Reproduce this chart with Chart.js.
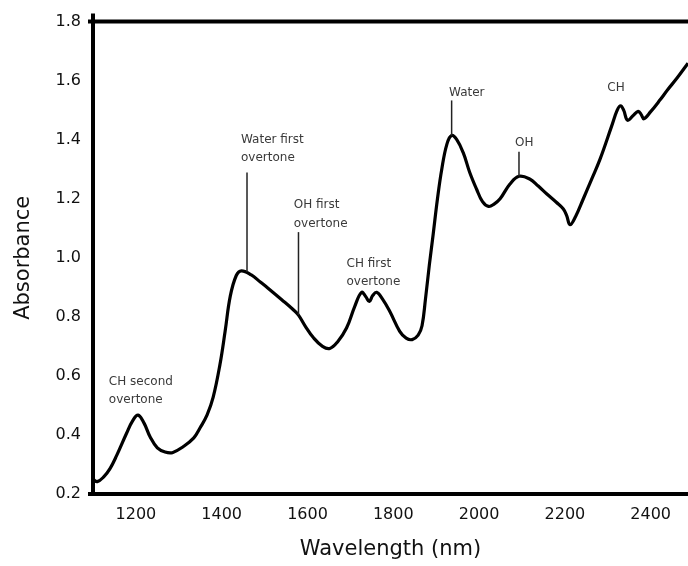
<!DOCTYPE html>
<html lang="en">
<head>
    <meta charset="UTF-8">
    <title>NIR Absorbance Spectrum</title>
    <script src="https://cdn.jsdelivr.net/npm/chart.js"></script>
    <style>
        html, body {
            margin: 0;
            padding: 0;
            background: #fff;
        }
        #chart-container {
            width: 688px;
            height: 566px;
        }
    </style>
</head>
<body>
    <div id="chart-container">
        <canvas id="spectrumChart"></canvas>
    </div>

    <script>
        // Spectrum (wavelength in nm, absorbance)
        const wavelengths = [
            1100, 1110, 1125, 1140, 1155, 1178, 1192, 1205, 1219, 1233, 1250, 1268, 1285,
            1310, 1335, 1350, 1366, 1380, 1396, 1408, 1420, 1434, 1446, 1469, 1490,
            1508, 1540, 1567, 1579, 1595, 1614, 1635, 1652, 1670, 1691, 1710, 1726, 1736,
            1744, 1752, 1761, 1775, 1792, 1815, 1830, 1844, 1858, 1867, 1875, 1884, 1893,
            1903, 1913, 1925, 1936, 1948, 1963, 1978, 1994, 2008, 2022, 2035, 2049, 2072,
            2093, 2118, 2138, 2158, 2180, 2196, 2204, 2212, 2225, 2243, 2262, 2282, 2309,
            2322, 2330, 2337, 2346, 2358, 2371, 2378, 2384, 2400, 2422, 2440, 2461, 2487
        ];
        const absorbance = [
            0.250, 0.242, 0.258, 0.287, 0.330, 0.405, 0.447, 0.467, 0.440, 0.394, 0.356, 0.342, 0.340,
            0.360, 0.390, 0.425, 0.468, 0.527, 0.639, 0.751, 0.870, 0.940, 0.956, 0.942, 0.918,
            0.897, 0.858, 0.824, 0.806, 0.768, 0.729, 0.700, 0.693, 0.715, 0.762, 0.835, 0.883, 0.868,
            0.852, 0.872, 0.883, 0.860, 0.818, 0.751, 0.728, 0.723, 0.738, 0.770, 0.860, 0.975, 1.080,
            1.200, 1.300, 1.385, 1.414, 1.400, 1.356, 1.290, 1.233, 1.190, 1.174, 1.182, 1.200, 1.250,
            1.276, 1.267, 1.243, 1.216, 1.188, 1.166, 1.144, 1.112, 1.140, 1.200, 1.265, 1.334, 1.446,
            1.500, 1.515, 1.500, 1.466, 1.480, 1.496, 1.485, 1.471, 1.495, 1.535, 1.570, 1.608, 1.659
        ];

        // Axis ticks
        const xTicks = [1200, 1400, 1600, 1800, 2000, 2200, 2400];
        const yTicks = [0.2, 0.4, 0.6, 0.8, 1.0, 1.2, 1.4, 1.6, 1.8];

        // Band labels: text (two lines at most), left edge of the text, first line height
        const bandLabels = [
            ['Water first', 'overtone'],
            ['OH first', 'overtone'],
            ['CH first', 'overtone'],
            ['CH second', 'overtone'],
            ['Water'],
            ['OH'],
            ['CH']
        ];
        const bandLabelX = [1445, 1568, 1691, 1137, 1930, 2084, 2299];
        const bandLabelY = [1.400, 1.178, 0.981, 0.581, 1.560, 1.390, 1.575];
        // Leader lines from label down to the curve (null = no line)
        const leaderX = [1459, 1579, null, null, 1936, 2093, null];
        const leaderTop = [1.289, 1.087, null, null, 1.533, 1.359, null];
        const leaderBottom = [0.952, 0.806, null, null, 1.414, 1.276, null];

        // Black box lines: left axis, top line and bottom axis
        const framePlugin = {
            id: 'frame',
            afterDatasetsDraw(chart) {
                const { ctx, chartArea } = chart;
                ctx.save();
                ctx.strokeStyle = '#000';
                ctx.lineWidth = 4;
                ctx.lineCap = 'butt';
                ctx.beginPath();
                ctx.moveTo(chartArea.left, chartArea.top - 8);
                ctx.lineTo(chartArea.left, chartArea.bottom + 2);
                ctx.moveTo(chartArea.left - 5, chartArea.top);
                ctx.lineTo(chartArea.right, chartArea.top);
                ctx.moveTo(chartArea.left - 5, chartArea.bottom);
                ctx.lineTo(chartArea.right, chartArea.bottom);
                ctx.stroke();
                ctx.restore();
            }
        };

        // Band labels and leader lines
        const bandPlugin = {
            id: 'bands',
            afterDatasetsDraw(chart) {
                const { ctx, scales } = chart;
                ctx.save();
                ctx.font = '12px "DejaVu Sans"';
                ctx.fillStyle = '#3a3a3a';
                ctx.textAlign = 'left';
                ctx.textBaseline = 'middle';
                bandLabels.forEach((lines, i) => {
                    const x = scales.x.getPixelForValue(bandLabelX[i]);
                    const y = scales.y.getPixelForValue(bandLabelY[i]);
                    lines.forEach((txt, j) => ctx.fillText(txt, x, y + j * 18.5));
                    if (leaderX[i] !== null) {
                        const lx = scales.x.getPixelForValue(leaderX[i]);
                        ctx.strokeStyle = '#222';
                        ctx.lineWidth = 1.5;
                        ctx.beginPath();
                        ctx.moveTo(lx, scales.y.getPixelForValue(leaderTop[i]));
                        ctx.lineTo(lx, scales.y.getPixelForValue(leaderBottom[i]));
                        ctx.stroke();
                    }
                });
                ctx.restore();
            }
        };

        const ctx = document.getElementById('spectrumChart').getContext('2d');
        new Chart(ctx, {
            type: 'line',
            data: {
                datasets: [{
                    label: 'Absorbance',
                    data: wavelengths.map((w, i) => ({ x: w, y: absorbance[i] })),
                    borderColor: '#000',
                    borderWidth: 3.2,
                    pointRadius: 0,
                    fill: false,
                    tension: 0.4
                }]
            },
            options: {
                responsive: true,
                maintainAspectRatio: false,
                animation: false,
                layout: {
                    padding: { top: 18, right: 0, bottom: 0, left: 0 }
                },
                plugins: {
                    legend: { display: false },
                    tooltip: { enabled: false }
                },
                scales: {
                    x: {
                        type: 'linear',
                        min: 1100,
                        max: 2487,
                        afterBuildTicks: scale => {
                            scale.ticks = xTicks.map(v => ({ value: v }));
                        },
                        afterFit: scale => { scale.height = 72; },
                        grid: { display: false, drawTicks: false },
                        border: { display: false },
                        ticks: {
                            padding: 11,
                            color: '#111',
                            font: { family: 'DejaVu Sans', size: 16 },
                            callback: v => String(v)
                        },
                        title: {
                            display: true,
                            text: 'Wavelength (nm)',
                            color: '#111',
                            font: { family: 'DejaVu Sans', size: 21 },
                            padding: { top: 0, bottom: 4 }
                        }
                    },
                    y: {
                        min: 0.2,
                        max: 1.8,
                        afterBuildTicks: scale => {
                            scale.ticks = yTicks.map(v => ({ value: v }));
                        },
                        afterFit: scale => { scale.width = 93; },
                        grid: { display: false, drawTicks: false },
                        border: { display: false },
                        ticks: {
                            padding: 12,
                            color: '#111',
                            font: { family: 'DejaVu Sans', size: 16 },
                            callback: v => v.toFixed(1)
                        },
                        title: {
                            display: true,
                            text: 'Absorbance',
                            color: '#111',
                            font: { family: 'DejaVu Sans', size: 21 },
                            padding: { top: 11, bottom: 0 }
                        }
                    }
                }
            },
            plugins: [framePlugin, bandPlugin]
        });
    </script>
</body>
</html>
